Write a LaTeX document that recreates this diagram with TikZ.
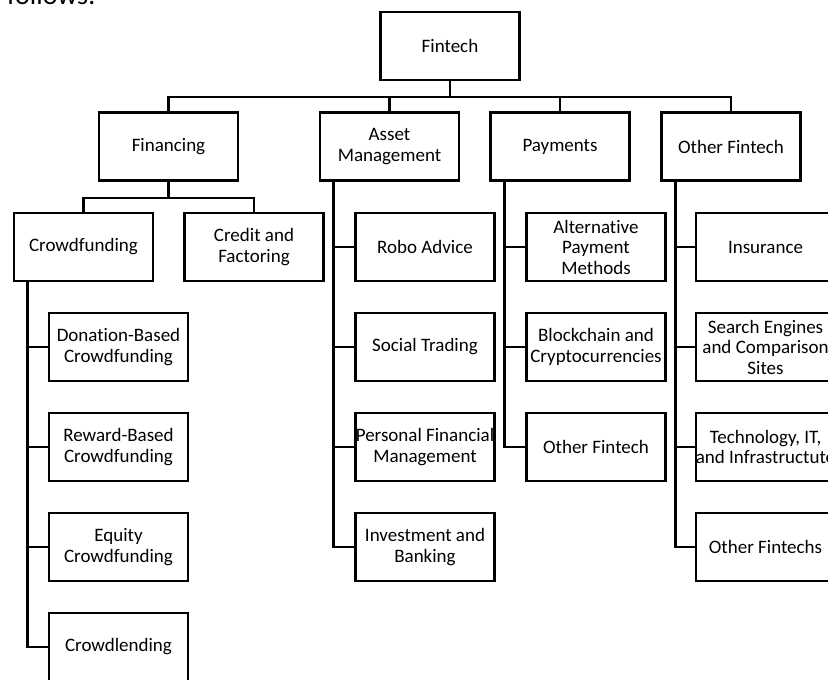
\documentclass[tikz,border=0pt]{standalone}
\usepackage{fontspec}
\setmainfont{Carlito}[Ligatures={NoCommon,NoContextual}]
\usetikzlibrary{calc}

% a framed category: empty box plus its centred caption
\newcommand\catbox[4]{%
  \node[box] (#1) at (#2,#3) {};
  \node[lbl] at (#1.center) {#4};}

\begin{document}
\begin{tikzpicture}[x=1pt,y=-1pt,
  box/.style={draw, line width=2.2pt, fill=white, minimum width=139pt, minimum height=68pt, inner sep=0pt},
  lbl/.style={align=center, font=\fontsize{19}{20.5}\selectfont, inner sep=0pt},
  link/.style={line width=2.2pt}]
\useasboundingbox (0,0) rectangle (828,680);

% tail of the preceding sentence
\node[anchor=base west, inner sep=0pt, font=\fontsize{28}{30}\selectfont] (lead) at (7,5) {follows:};

% root and first level
\catbox{fin}{450}{46}{Fintech}
\catbox{fa}{168.5}{146.5}{Financing}
\catbox{am}{389.5}{146.5}{Asset\\Management}
\catbox{pay}{560}{146.5}{Payments}
\catbox{oth}{731}{146.5}{Other Fintech}

% financing branch
\catbox{cf}{83.5}{247}{Crowdfunding}
\catbox{cr}{254}{247}{Credit and\\Factoring}
\catbox{don}{118.5}{347}{Donation-Based\\Crowdfunding}
\catbox{rew}{118.5}{447}{Reward-Based\\Crowdfunding}
\catbox{equ}{118.5}{547}{Equity\\Crowdfunding}
\catbox{len}{118.5}{647}{Crowdlending}

% asset management branch
\catbox{robo}{425}{247}{Robo Advice}
\catbox{soc}{425}{347}{Social Trading}
\catbox{pfm}{425}{447}{Personal Financial\\Management}
\catbox{inv}{425}{547}{Investment and\\Banking}

% payments branch
\catbox{apm}{596}{247}{Alternative\\Payment\\Methods}
\catbox{bc}{596}{347}{Blockchain and\\Cryptocurrencies}
\catbox{opay}{596}{447}{Other Fintech}

% other fintech branch
\catbox{ins}{765.5}{247}{Insurance}
\catbox{se}{765.5}{347}{Search Engines\\and Comparison\\Sites}
\catbox{tech}{765.5}{447}{Technology, IT,\\and Infrastructute}
\catbox{ofs}{765.5}{547}{Other Fintechs}

% bus under the root
\coordinate (bus) at ($(fin.south)+(0,16)$);
\draw[link] (fin.south) -- (bus);
\foreach \c in {fa,am,pay,oth} \draw[link] (bus) -| (\c.north);

% bus under financing
\coordinate (fbus) at ($(fa.south)+(0,16)$);
\draw[link] (fa.south) -- (fbus);
\foreach \c in {cf,cr} \draw[link] (fbus) -| (\c.north);

% side trunks
\coordinate (cft) at ($(cf.south west)+(14.5,0)$);
\foreach \c in {don,rew,equ,len} \draw[link] (cft) |- (\c.west);
\coordinate (amt) at ($(am.south west)+(14.5,0)$);
\foreach \c in {robo,soc,pfm,inv} \draw[link] (amt) |- (\c.west);
\coordinate (payt) at ($(pay.south west)+(15,0)$);
\foreach \c in {apm,bc,opay} \draw[link] (payt) |- (\c.west);
\coordinate (otht) at ($(oth.south west)+(15,0)$);
\foreach \c in {ins,se,tech,ofs} \draw[link] (otht) |- (\c.west);
\end{tikzpicture}
\end{document}
